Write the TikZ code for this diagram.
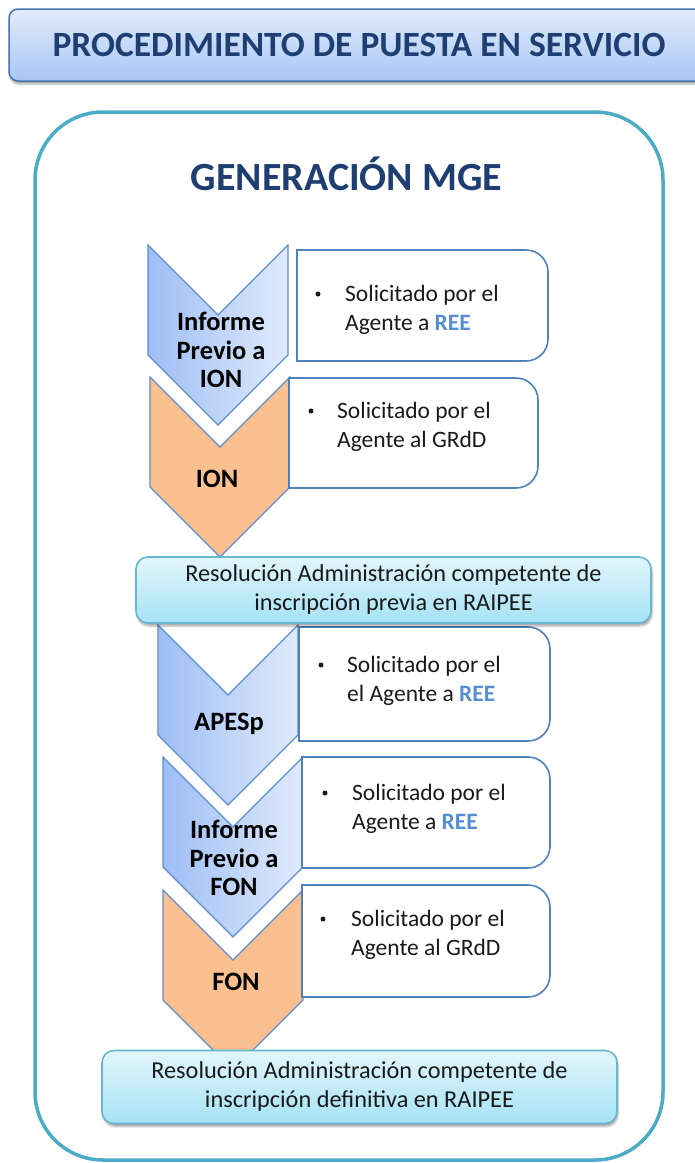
\documentclass[tikz,border=0pt]{standalone}
\usepackage{fontspec}
\setmainfont{Carlito}
\usetikzlibrary{shadows.blur}

\definecolor{frameCol}{HTML}{4BACC6}
\definecolor{lineCol}{HTML}{4F81BD}
\definecolor{chevLine}{HTML}{5B8DD0}
\definecolor{headCol}{HTML}{1F3F73}
\definecolor{reeCol}{HTML}{558ED5}
\definecolor{txtCol}{HTML}{1A1A1A}
\definecolor{orangeCol}{HTML}{FAC090}
\definecolor{chevLeft}{HTML}{9EBEF5}
\definecolor{chevRight}{HTML}{E0EAFC}
\definecolor{titleTop}{HTML}{E2ECFC}
\definecolor{titleBottom}{HTML}{A8C6F3}
\definecolor{resTop}{HTML}{E2F6FC}
\definecolor{resBottom}{HTML}{A6E2F5}

% chevron pointing down: #1 style, #2 left x, #3 top y
\newcommand{\Chevron}[3]{\path[#1] (#2,#3) -- ++(70,70) -- ++(70,-70) -- ++(0,110) -- ++(-70,70) -- ++(-70,-70) -- cycle;}
% box with rounded right side: #1 x1, #2 y1, #3 x2, #4 y2
\newcommand{\StepBox}[4]{\draw[stepLine] (#1,#2) -- ({(#1+#3)/2},#2) [rounded corners=22pt] -- (#3,#2) -- (#3,#4) -- ({(#1+#3)/2},#4) [sharp corners] -- (#1,#4) -- cycle;}

\begin{document}
\begin{tikzpicture}[x=1pt, y=-1pt]
	\tikzstyle{titleStyle}=[draw=lineCol!90!black, line width=1.5pt, rounded corners=9pt, top color=titleTop, bottom color=titleBottom, minimum width=700pt, minimum height=72pt, inner sep=0pt, blur shadow={shadow xshift=1pt, shadow yshift=-3pt, shadow opacity=35}, font=\fontsize{35.5}{40}\selectfont\bfseries, text=headCol]
	\tikzstyle{blueChev}=[draw=chevLine, line width=1.2pt, left color=chevLeft, right color=chevRight]
	\tikzstyle{orangeChev}=[draw=chevLine, line width=1.2pt, fill=orangeCol]
	\tikzstyle{stepLine}=[draw=lineCol, line width=1.6pt, fill=white]
	\tikzstyle{chevText}=[inner sep=0pt, align=center, font=\fontsize{26.5}{28.5}\selectfont\bfseries, text=black]
	\tikzstyle{stepText}=[anchor=west, inner sep=0pt, align=left, font=\fontsize{23.5}{29}\selectfont, text=txtCol]
	\tikzstyle{bulletStyle}=[circle, fill=txtCol, inner sep=0pt, minimum size=5pt]
	\tikzstyle{resStyle}=[draw=frameCol!85, line width=1.6pt, rounded corners=12pt, top color=resTop, bottom color=resBottom, minimum width=515pt, inner sep=0pt, align=center, blur shadow={shadow xshift=1pt, shadow yshift=-3pt, shadow opacity=35}, font=\fontsize{24.3}{29}\selectfont, text=txtCol]
	\useasboundingbox (0,0) rectangle (695,1163);
	\node[titleStyle] (title) at (359,45) {PROCEDIMIENTO DE PUESTA EN SERVICIO};
	\draw[frameCol, line width=3.5pt, rounded corners=68pt] (35,112) rectangle (663,1160);
	\node[anchor=base, inner sep=0pt, font=\fontsize{40}{46}\selectfont\bfseries, text=headCol] (gen) at (346.5,190) {GENERACIÓN MGE};
	% chevrons
	\Chevron{blueChev}{148}{245}
	\Chevron{orangeChev}{150}{377}
	\Chevron{blueChev}{158}{625}
	\Chevron{blueChev}{163}{757}
	\Chevron{orangeChev}{163}{890}
	\node[chevText] (in1) at (221,350) {Informe\\Previo a\\ION};
	\node[chevText, anchor=base] (ion) at (217,487) {ION};
	\node[chevText, anchor=base] (apesp) at (229,730) {APESp};
	\node[chevText] (in2) at (234,858) {Informe\\Previo a\\FON};
	\node[chevText, anchor=base] (fon) at (236,990) {FON};
	% boxes
	\StepBox{297}{250}{548}{361}
	\StepBox{289}{378}{538}{488}
	\StepBox{299}{627}{550}{741}
	\StepBox{302}{757}{550}{868}
	\StepBox{302}{885}{550}{997}
	\node[bulletStyle] (b1) at (318,294) {};
	\node[stepText] (s1) at (345,309.5) {Solicitado por el\\Agente a \textcolor{reeCol}{\bfseries REE}};
	\node[bulletStyle] (b2) at (311,411) {};
	\node[stepText] (s2) at (337,426.5) {Solicitado por el\\Agente al GRdD};
	\node[bulletStyle] (b3) at (321,665) {};
	\node[stepText] (s3) at (347,681) {Solicitado por el\\el Agente a \textcolor{reeCol}{\bfseries REE}};
	\node[bulletStyle] (b4) at (325,793) {};
	\node[stepText] (s4) at (352,808.5) {Solicitado por el\\Agente a \textcolor{reeCol}{\bfseries REE}};
	\node[bulletStyle] (b5) at (323,919) {};
	\node[stepText] (s5) at (351,934.5) {Solicitado por el\\Agente al GRdD};
	% resolutions
	\node[resStyle, minimum height=66pt] (res1) at (393.5,590) {Resolución Administración competente de\\inscripción previa en RAIPEE};
	\node[resStyle, minimum height=73pt] (res2) at (359.5,1087) {Resolución Administración competente de\\inscripción definitiva en RAIPEE};
\end{tikzpicture}
\end{document}
